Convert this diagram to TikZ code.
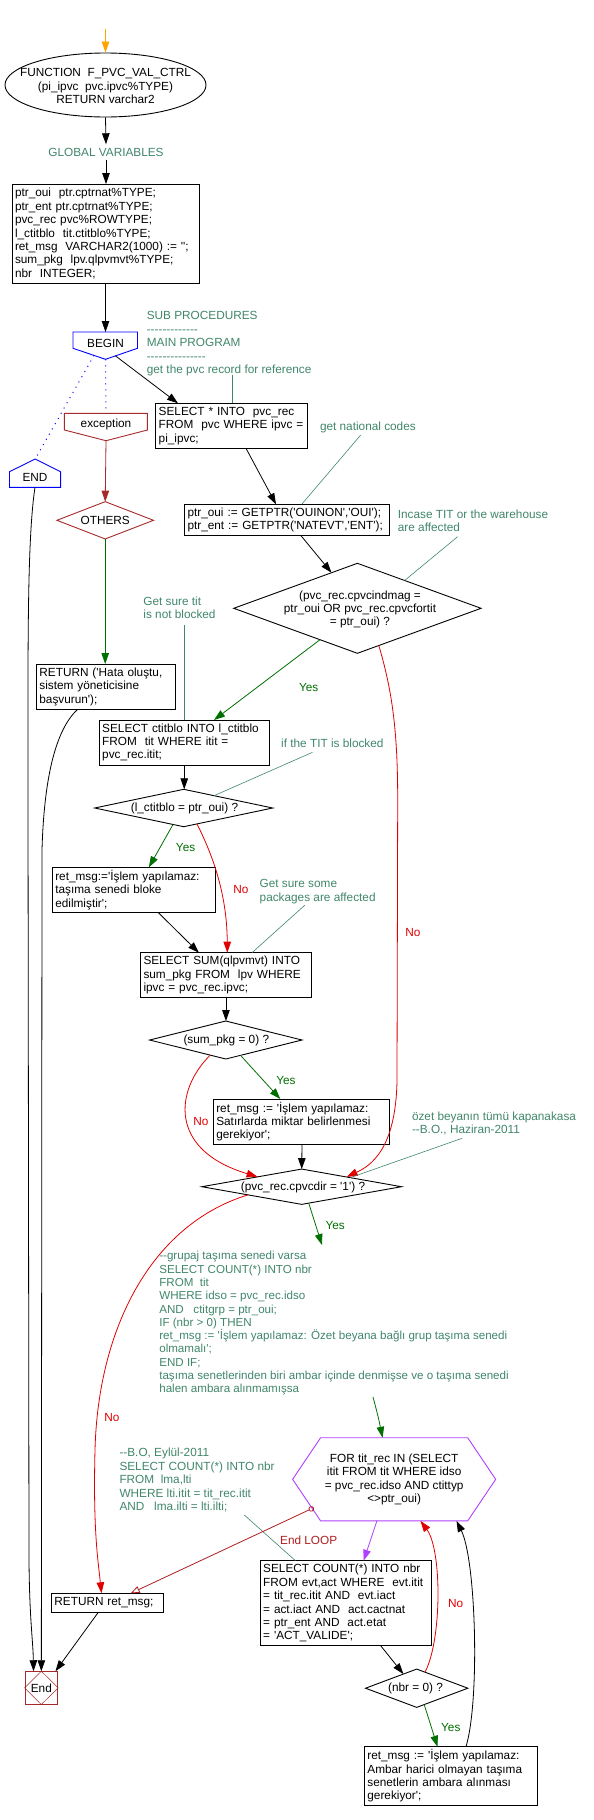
\documentclass[tikz,border=0pt]{standalone}
\usepackage{fontspec}
\setmainfont{Liberation Sans}[Ligatures=TeXOff]
\usetikzlibrary{shapes.geometric,arrows.meta,calc}
\definecolor{ccol}{RGB}{64,134,106}
\definecolor{yesg}{RGB}{0,110,0}
\definecolor{nored}{RGB}{225,0,0}
\definecolor{brn}{RGB}{165,42,42}
\definecolor{lred}{RGB}{175,30,30}
\definecolor{purp}{RGB}{176,64,255}
\definecolor{orng}{RGB}{255,165,0}
\definecolor{blu}{RGB}{0,0,255}
\newcommand\Lx[1]{\mbox{#1}}
\begin{document}
\begin{tikzpicture}[x=1pt,y=-1pt,
  every node/.style={font=\fontsize{11.8}{13.4}\selectfont},
  bx/.style={draw, line width=0.9pt, rectangle, inner xsep=3pt, inner ysep=0pt, align=left, outer sep=0pt},
  dia/.style={draw, diamond, inner sep=0pt, outer sep=0pt, line width=0.9pt},
  cmnt/.style={text=ccol, align=left, inner sep=0pt, anchor=north west},
  arr/.style={line width=0.8pt, -{Triangle[length=11pt,width=7.5pt]}},
  cln/.style={draw=ccol, line width=0.6pt},
  dotl/.style={blu, line width=1pt, dash pattern=on 1pt off 5pt},
  shp/.style={line width=0.9pt}]
\useasboundingbox (0,0) rectangle (594,1820);

% ---------- header
\coordinate (st) at (105.5,29);
\node[draw, ellipse, minimum width=201pt, minimum height=64pt, inner sep=0pt, line width=0.9pt] (fn) at (105.5,85) {};
\node[align=center, inner sep=0pt] (fnt) at (105.5,86) {FUNCTION~ F\_PVC\_VAL\_CTRL\\(pi\_ipvc~ pvc.ipvc\%TYPE)\\RETURN varchar2};
\draw[arr, orng] (st) -- (fn.north);
\node[text=ccol] (gv) at (106,152) {GLOBAL VARIABLES};
\draw[arr] (fn.south) -- (gv.north);
\node[bx, minimum width=187pt, minimum height=99pt, text width=181pt] (vars) at (105.5,233.5)
 {\Lx{ptr\_oui~ ptr.cptrnat\%TYPE;}\\\Lx{ptr\_ent ptr.cptrnat\%TYPE;}\\\Lx{pvc\_rec pvc\%ROWTYPE;}\\\Lx{l\_ctitblo~ tit.ctitblo\%TYPE;}\\\Lx{ret\_msg~ VARCHAR2(1000) := '';}\\\Lx{sum\_pkg~ lpv.qlpvmvt\%TYPE;}\\\Lx{nbr~ INTEGER;}};
\draw[arr] (gv.south) -- (gv.south |- vars.north);

% ---------- BEGIN / END / exception
\draw[blu, shp] (73,332) -- (137.5,332) -- (137.5,348.3) -- (105.5,359.3) -- (73,348.3) -- cycle;
\coordinate (bgtop) at (105.5,332);
\coordinate (bgtip) at (105.5,359.3);
\coordinate (bgL) at (94,355.4);
\coordinate (bgR) at (115.5,355.9);
\node (begin) at (105.5,343.5) {BEGIN};
\draw[arr] (vars.south) -- (bgtop);

\draw[brn, shp] (64.4,413.3) -- (147.4,413.3) -- (147.4,430) -- (106,440.7) -- (64.4,430) -- cycle;
\coordinate (exctop) at (106,413.3);
\coordinate (exctip) at (106,440.7);
\node (exc) at (106,424) {exception};

\draw[blu, shp] (35.2,459) -- (60.6,471.7) -- (60.6,487.3) -- (9.5,487.3) -- (9.5,471.7) -- cycle;
\coordinate (endtop) at (35.2,459);
\coordinate (endbot) at (35,487.3);
\node (endn) at (35,477.5) {END};

\draw[dotl] (bgL) -- (endtop);
\draw[dotl] (bgtip) -- (exctop);

\node[dia, draw=brn, minimum width=96.6pt, minimum height=37.3pt] (others) at (105.2,520.3) {};
\node (otherst) at (105.2,520.5) {OTHERS};
\draw[arr, brn] (exctip) -- (others.north);

\node[bx, minimum width=139.4pt, minimum height=45.3pt, text width=133.4pt] (ret1) at (106.1,686.65)
 {\Lx{RETURN ('Hata oluştu,}\\\Lx{sistem yöneticisine}\\\Lx{başvurun');}};
\draw[arr, yesg] (others.south) -- (others.south |- ret1.north);

% ---------- main program
\node[cmnt] (cm1) at (146.6,311.5) {SUB PROCEDURES\\-------------\\MAIN PROGRAM\\---------------\\get the pvc record for reference};
\node[bx, minimum width=151.5pt, minimum height=45pt, text width=145.5pt] (sel1) at (231.45,425.8)
 {\Lx{SELECT * INTO~ pvc\_rec}\\\Lx{FROM~ pvc WHERE ipvc =}\\\Lx{pi\_ipvc;}};
\draw[cln] ($(cm1.north west)+(85.7,63.5)$) -- ($(sel1.north west)+(76.6,0)$);
\draw[arr] (bgR) -- ($(sel1.north west)+(22.3,0)$);

\node[cmnt] (cmnat) at (319.8,421.8) {get national codes};
\node[bx, minimum width=204.5pt, minimum height=31.4pt, text width=198.5pt] (getptr) at (286.75,520)
 {\Lx{ptr\_oui := GETPTR('OUINON','OUI');}\\\Lx{ptr\_ent := GETPTR('NATEVT','ENT');}};
\draw[cln] ($(cmnat.north west)+(40.9,13.2)$) -- ($(getptr.north west)+(117.2,0)$);
\draw[arr] ($(sel1.south west)+(90.3,0)$) -- ($(getptr.north west)+(91.5,0)$);

\node[dia, minimum width=247.3pt, minimum height=90pt] (d1) at (357.4,608.3) {};
\node[align=center, inner sep=0pt] (d1t) at (360,609.5) {(pvc\_rec.cpvcindmag =\\ptr\_oui OR pvc\_rec.cpvcfortit\\= ptr\_oui) ?};
\node[cmnt] (cminc) at (397.7,509.5) {Incase TIT or the warehouse\\are affected};
\draw[cln] ($(cminc.north west)+(59.9,27.2)$) -- ($(d1)+(47.2,-27.8)$);
\draw[arr] ($(getptr.south west)+(116.5,0)$) -- ($(d1)+(-25.9,-35.6)$);

\node[cmnt] (cmtit) at (143.2,596.5) {Get sure tit\\is not blocked};
\node[bx, minimum width=170.1pt, minimum height=45pt, text width=164.1pt] (sel2) at (184.25,742.5)
 {\Lx{SELECT ctitblo INTO l\_ctitblo}\\\Lx{FROM~ tit WHERE itit =}\\\Lx{pvc\_rec.itit;}};
\draw[cln] ($(cmtit.north west)+(41.3,28.5)$) -- ($(sel2.north west)+(85.3,0)$);
\draw[arr, yesg] ($(d1)+(-37.4,31.4)$) -- ($(sel2.north west)+(114.8,0)$);
\node[text=yesg] (yes1) at (308.7,687.7) {Yes};

\node[dia, minimum width=178pt, minimum height=37.4pt] (d2) at (183.7,808) {};
\node (d2t) at (184.5,808.3) {(l\_ctitblo = ptr\_oui) ?};
\node[cmnt] (cmblk) at (281,738.8) {if the TIT is blocked};
\draw[cln] ($(cmblk.north west)+(31.5,13.5)$) -- ($(d2)+(30.3,-12.3)$);
\draw[arr] (sel2.south) -- (sel2.south |- d2.north);

\node[bx, minimum width=163.2pt, minimum height=45pt, text width=157.2pt] (ret2) at (133.9,889.8)
 {\Lx{ret\_msg:='İşlem yapılamaz:}\\\Lx{taşıma senedi bloke}\\\Lx{edilmiştir';}};
\node[bx, minimum width=170.9pt, minimum height=44.6pt, text width=164.9pt] (sum) at (225.95,975)
 {\Lx{SELECT SUM(qlpvmvt) INTO}\\\Lx{sum\_pkg FROM~ lpv WHERE}\\\Lx{ipvc = pvc\_rec.ipvc;}};
\draw[arr, yesg] ($(d2)+(-10.7,16.5)$) -- ($(ret2.north west)+(96.6,0)$);
\node[text=yesg] (yes2) at (185.6,847.3) {Yes};
\draw[arr, nored] ($(d2)+(13.3,15.9)$) .. controls (210,850) and (227,890) .. ($(sum.north west)+(86.8,0)$);
\node[text=nored] (no2) at (241,889.3) {No};
\node[cmnt] (cmpkg) at (259.5,879.5) {Get sure some\\packages are affected};
\draw[cln] ($(cmpkg.north west)+(45.5,25.5)$) -- ($(sum.north west)+(111.5,0)$);
\draw[arr] ($(ret2.south west)+(105.7,0)$) -- ($(sum.north west)+(58.4,0)$);

\node[dia, minimum width=152.3pt, minimum height=38pt] (d3) at (225.8,1040) {};
\node (d3t) at (226.3,1040.7) {(sum\_pkg = 0) ?};
\draw[arr] (sum.south) -- (sum.south |- d3.north);

\node[bx, minimum width=175.7pt, minimum height=45.3pt, text width=169.7pt] (ret3) at (301.15,1121.65)
 {\Lx{ret\_msg := 'İşlem yapılamaz:}\\\Lx{Satırlarda miktar belirlenmesi}\\\Lx{gerekiyor';}};
\draw[arr, yesg] ($(d3)+(14.7,15.3)$) -- ($(ret3.north west)+(67,0)$);
\node[text=yesg] (yes3) at (286,1080) {Yes};

\node[dia, minimum width=199.6pt, minimum height=35.3pt] (d4) at (301.7,1186.7) {};
\node (d4t) at (303,1187) {(pvc\_rec.cpvcdir = '1') ?};
\draw[arr, nored] ($(d3)+(-15.6,15.1)$) .. controls (175,1090) and (168,1150) .. ($(d4)+(-44.1,-9.9)$);
\node[text=nored] (no3) at (200.8,1121.7) {No};
\draw[arr] ($(ret3.south west)+(88.7,0)$) -- (d4.north);
\draw[arr, nored] ($(d1)+(21.4,37.2)$) .. controls (392,690) and (397.7,730) .. (397.7,800) -- (397,1080) .. controls (396,1150) and (370,1166) .. ($(d4)+(44.9,-9.8)$);
\node[text=nored] (no1) at (412.9,932.7) {No};
\node[cmnt] (cmozet) at (411.8,1111.5) {özet beyanın tümü kapanakasa\\--B.O., Haziran-2011};
\draw[cln] ($(cmozet.north west)+(50.2,26.8)$) -- ($(d4)+(48.7,-9.1)$);

% ---------- lower part
\node[cmnt, font=\fontsize{11.6}{13.3}\selectfont] (cmgrp) at (159.1,1251.2) {--grupaj taşıma senedi varsa\\SELECT COUNT(*) INTO nbr\\FROM~ tit\\WHERE idso = pvc\_rec.idso\\AND~~ ctitgrp = ptr\_oui;\\IF (nbr > 0) THEN\\ret\_msg := 'İşlem yapılamaz: Özet beyana bağlı grup taşıma senedi\\olmamalı';\\END IF;\\taşıma senetlerinden biri ambar içinde denmişse ve o taşıma senedi\\halen ambara alınmamışsa};
\draw[arr, yesg] ($(d4)+(7,16.4)$) -- ($(cmgrp.north west)+(162.9,-6.2)$);
\node[text=yesg] (yes4) at (335.2,1225.7) {Yes};

\node[align=center, minimum width=202.7pt, minimum height=82.7pt, inner sep=0pt] (forx) at (394.15,1479.3)
 {FOR tit\_rec IN (SELECT\\itit FROM tit WHERE idso\\= pvc\_rec.idso AND ctittyp\\<>ptr\_oui)};
\draw[purp, shp] (forx.west) -- ($(forx.north west)+(28,0)$) -- ($(forx.north east)+(-28,0)$) -- (forx.east) -- ($(forx.south east)+(-28,0)$) -- ($(forx.south west)+(28,0)$) -- cycle;
\draw[arr, yesg] ($(cmgrp.north west)+(213.9,145.8)$) .. controls ($(cmgrp.north west)+(219,165)$) .. ($(forx.north)+(-11.55,0)$);

\node[cmnt] (cmbo) at (119.3,1448.2) {--B.O, Eylül-2011\\SELECT COUNT(*) INTO nbr\\FROM~ lma,lti\\WHERE lti.itit = tit\_rec.itit\\AND~~ lma.ilti = lti.ilti;};

\node[bx, minimum width=111.9pt, minimum height=19pt, text width=105.9pt] (ret4) at (107.35,1602.8) {\Lx{RETURN ret\_msg;}};
\node[bx, minimum width=171.6pt, minimum height=85pt, text width=165.6pt] (cnt) at (346,1603.2)
 {\Lx{SELECT COUNT(*) INTO nbr}\\\Lx{FROM evt,act WHERE~ evt.itit}\\\Lx{= tit\_rec.itit AND~ evt.iact}\\\Lx{= act.iact AND~ act.cactnat}\\\Lx{= ptr\_ent AND~ act.etat}\\\Lx{= 'ACT\_VALIDE';}};
\draw[cln] ($(cmbo.north west)+(125,66.8)$) -- ($(cnt.north west)+(35.3,0)$);
\draw[line width=0.8pt, lred, {Circle[open,length=5.5pt,width=5.5pt]}-{Triangle[open,length=9pt,width=7pt]}] ($(forx.south west)+(21.2,-13.15)$) -- ($(ret4.north west)+(79.3,0)$);
\node[text=lred] (endloop) at (308.7,1540.7) {End LOOP};
\draw[arr, nored] ($(d4)+(-53.7,8.15)$) .. controls (150,1225) and (98,1330) .. (95,1450) .. controls (93,1530) and (98,1560) .. ($(ret4.north west)+(50.1,0)$);
\node[text=nored, anchor=west, inner sep=0pt] (no4) at (104.2,1417.7) {No};
\draw[arr, purp] ($(forx.south)+(-17.25,0)$) -- ($(cnt.north west)+(103.4,0)$);

\node[dia, minimum width=102.3pt, minimum height=38.3pt] (d5) at (416.7,1688.2) {};
\node (d5t) at (415.5,1688.3) {(nbr = 0) ?};
\draw[arr] ($(cnt.south west)+(120.5,0)$) -- ($(d5)+(-13.3,-14.2)$);
\draw[arr, nored] ($(d5)+(8.3,-16.1)$) .. controls (442,1640) and (442,1550) .. ($(forx.south)+(26.35,0)$);
\node[text=nored] (no5) at (455.7,1603.3) {No};

\node[bx, minimum width=172.7pt, minimum height=58.3pt, text width=166.7pt] (ret5) at (450.75,1775.85)
 {\Lx{ret\_msg := 'İşlem yapılamaz:}\\\Lx{Ambar harici olmayan taşıma}\\\Lx{senetlerin ambara alınması}\\\Lx{gerekiyor';}};
\draw[arr, yesg] ($(d5)+(7.5,16.3)$) -- ($(ret5.north west)+(73.1,0)$);
\node[text=yesg] (yes5) at (450.8,1727.3) {Yes};
\draw[arr] ($(ret5.north west)+(101.6,0)$) .. controls (480,1700) and (476,1560) .. ($(forx.south)+(62.35,0)$);

% ---------- End
\node[draw=brn, line width=0.9pt, minimum width=32.7pt, minimum height=32.3pt, inner sep=0pt] (endbox) at (41.35,1687.85) {End};
\draw[brn, line width=0.5pt] (endbox.north) -- (endbox.east) -- (endbox.south) -- (endbox.west) -- cycle;
\draw[arr] (endbot) .. controls (27,540) and (28,650) .. (28,800) -- (29,1560) .. controls (29.5,1620) and (33,1640) .. ($(endbox.north west)+(9,0)$);
\draw[arr] ($(ret1.south west)+(41.3,0)$) .. controls (55,730) and (44,780) .. (42,850) -- (endbox.north);
\draw[arr] ($(ret4.south west)+(46.9,0)$) -- ($(endbox.north east)+(-2.7,0)$);
\end{tikzpicture}
\end{document}
